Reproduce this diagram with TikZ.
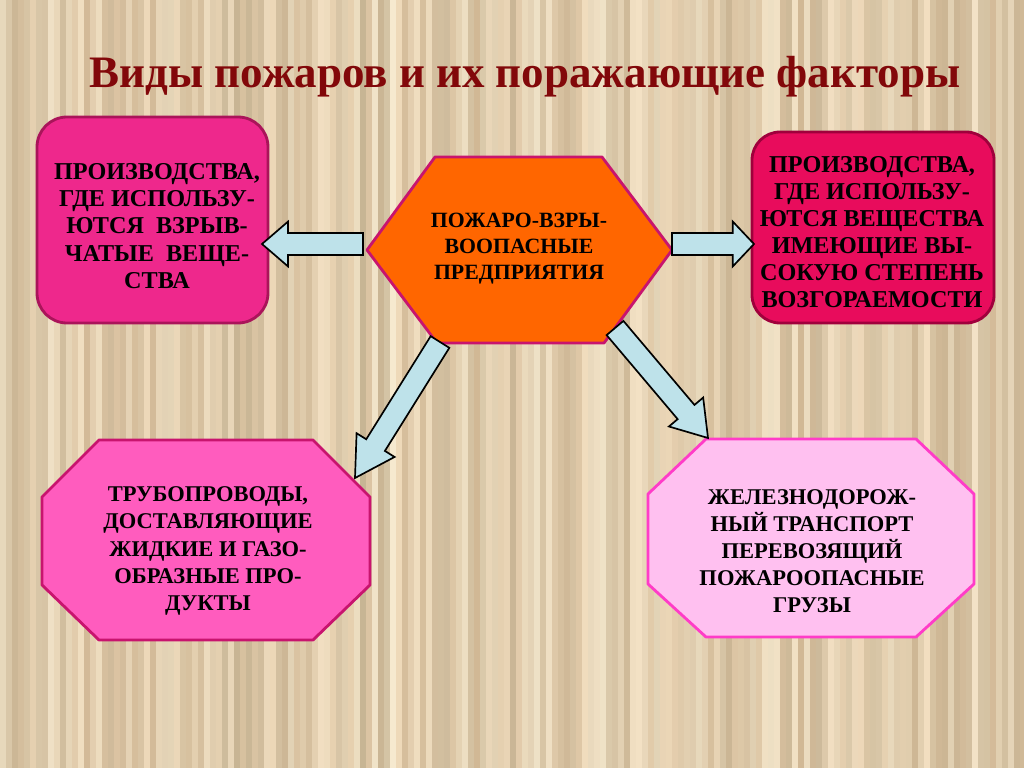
\documentclass[tikz,border=0pt]{standalone}
\usepackage{fontspec}
\setmainfont{Liberation Serif}
\usetikzlibrary{calc,positioning}
\pgfdeclarelayer{back}
\pgfsetlayers{back,main}

\definecolor{titlered}{RGB}{130,8,10}
\definecolor{stripelight}{RGB}{248,236,210}
\definecolor{stripedark}{RGB}{198,180,148}
\definecolor{stripepeach}{RGB}{228,190,150}
\definecolor{lboxfill}{RGB}{238,40,140}
\definecolor{lboxline}{RGB}{170,20,90}
\definecolor{rboxfill}{RGB}{232,12,92}
\definecolor{rboxline}{RGB}{160,0,60}
\definecolor{hexfill}{RGB}{255,102,0}
\definecolor{hexline}{RGB}{200,20,110}
\definecolor{pipefill}{RGB}{255,92,190}
\definecolor{pipeline}{RGB}{200,20,110}
\definecolor{railfill}{RGB}{255,192,240}
\definecolor{railline}{RGB}{255,60,200}
\definecolor{arrowfill}{RGB}{190,226,234}

\tikzset{
  titletext/.style={font=\bfseries\fontsize{32}{36}\selectfont, text=titlered, inner sep=0pt},
  boxtext/.style={align=center, font=\bfseries\fontsize{16}{19.3}\selectfont, inner sep=0pt},
  topboxtext/.style={boxtext, font=\bfseries\fontsize{17.2}{19.3}\selectfont},
  hextext/.style={align=center, font=\bfseries\fontsize{15.5}{18.5}\selectfont, inner sep=0pt},
  shapeline/.style={line width=2pt, line join=round},
  blockarrow/.style={draw=black, fill=arrowfill, line width=1.2pt}
}

% fat block arrow between two named points, opt. arg = head length
\newcommand{\fatarrow}[3][0.7cm]{%
  \coordinate (neck) at ($(#3)!#1!(#2)$);
  \draw[blockarrow] ($(#2)!0.275cm!90:(#3)$) -- ($(neck)!0.275cm!90:(#3)$)
    -- ($(neck)!0.56cm!90:(#3)$) -- (#3) -- ($(neck)!0.56cm!-90:(#3)$)
    -- ($(neck)!0.275cm!-90:(#3)$) -- ($(#2)!0.275cm!-90:(#3)$) -- cycle;}

\begin{document}
\begin{tikzpicture}[x=0.025cm, y=-0.025cm]
  \useasboundingbox (0,0) rectangle (1024,768);

  \node[titletext] (title) at (525,77) {Виды пожаров и их поражающие факторы};

  \node[hextext] (hex) at (519,249) {ПОЖАРО-ВЗРЫ-\\ВООПАСНЫЕ\\ПРЕДПРИЯТИЯ};
  \node[topboxtext] (lbox) at (157,226) {ПРОИЗВОДСТВА,\\ГДЕ ИСПОЛЬЗУ-\\ЮТСЯ~~ВЗРЫВ-\\ЧАТЫЕ~~ВЕЩЕ-\\СТВА};
  \node[topboxtext] (rbox) at (872,232) {ПРОИЗВОДСТВА,\\ГДЕ ИСПОЛЬЗУ-\\ЮТСЯ ВЕЩЕСТВА\\ИМЕЮЩИЕ ВЫ-\\СОКУЮ СТЕПЕНЬ\\ВОЗГОРАЕМОСТИ};
  \node[boxtext] (pipe) at (208,551) {ТРУБОПРОВОДЫ,\\ДОСТАВЛЯЮЩИЕ\\ЖИДКИЕ И ГАЗО-\\ОБРАЗНЫЕ ПРО-\\ДУКТЫ};
  \node[boxtext] (rail) at (812,551) {ЖЕЛЕЗНОДОРОЖ-\\НЫЙ ТРАНСПОРТ\\ПЕРЕВОЗЯЩИЙ\\ПОЖАРООПАСНЫЕ\\ГРУЗЫ};

  \begin{pgfonlayer}{back}
    % striped wallpaper
    \pgfmathsetseed{11}
    \foreach \i in {0,...,170}{
      \pgfmathtruncatemacro\ta{100*rnd}
      \pgfmathtruncatemacro\tb{65+35*rnd}
      \fill[stripelight!\ta!stripedark!\tb!stripepeach] (\i*6,0) rectangle ++(6.4,768);
    }
    \draw[shapeline, draw=lboxline, fill=lboxfill, rounded corners=0.75cm] (37,117) rectangle (268,323);
    \draw[shapeline, draw=rboxline, fill=rboxfill, rounded corners=0.7cm] (752,132) rectangle (994,323);
    \draw[shapeline, draw=hexline, fill=hexfill] (367,250) -- (435,157) -- (602,157) -- (672,250)
      -- (604,343) -- (437,343) -- cycle;
    \draw[shapeline, draw=pipeline, fill=pipefill] (99,440) -- (313,440) -- (370,497) -- (370,585)
      -- (313,640) -- (99,640) -- (42,585) -- (42,497) -- cycle;
    \draw[shapeline, draw=railline, fill=railfill] (706,439) -- (916,439) -- (974,494) -- (974,584)
      -- (916,637) -- (706,637) -- (648,584) -- (648,494) -- cycle;
  \end{pgfonlayer}

  \coordinate (la0) at (363,244); \coordinate (la1) at (262,244);
  \coordinate (ra0) at (672,244); \coordinate (ra1) at (754,244);
  \coordinate (da0) at (440,342); \coordinate (da1) at (355,478);
  \coordinate (ea0) at (615,328); \coordinate (ea1) at (708,438);

  \fatarrow[0.65cm]{la0}{la1}
  \fatarrow[0.53cm]{ra0}{ra1}
  \fatarrow[0.97cm]{da0}{da1}
  \fatarrow[0.85cm]{ea0}{ea1}
\end{tikzpicture}
\end{document}
